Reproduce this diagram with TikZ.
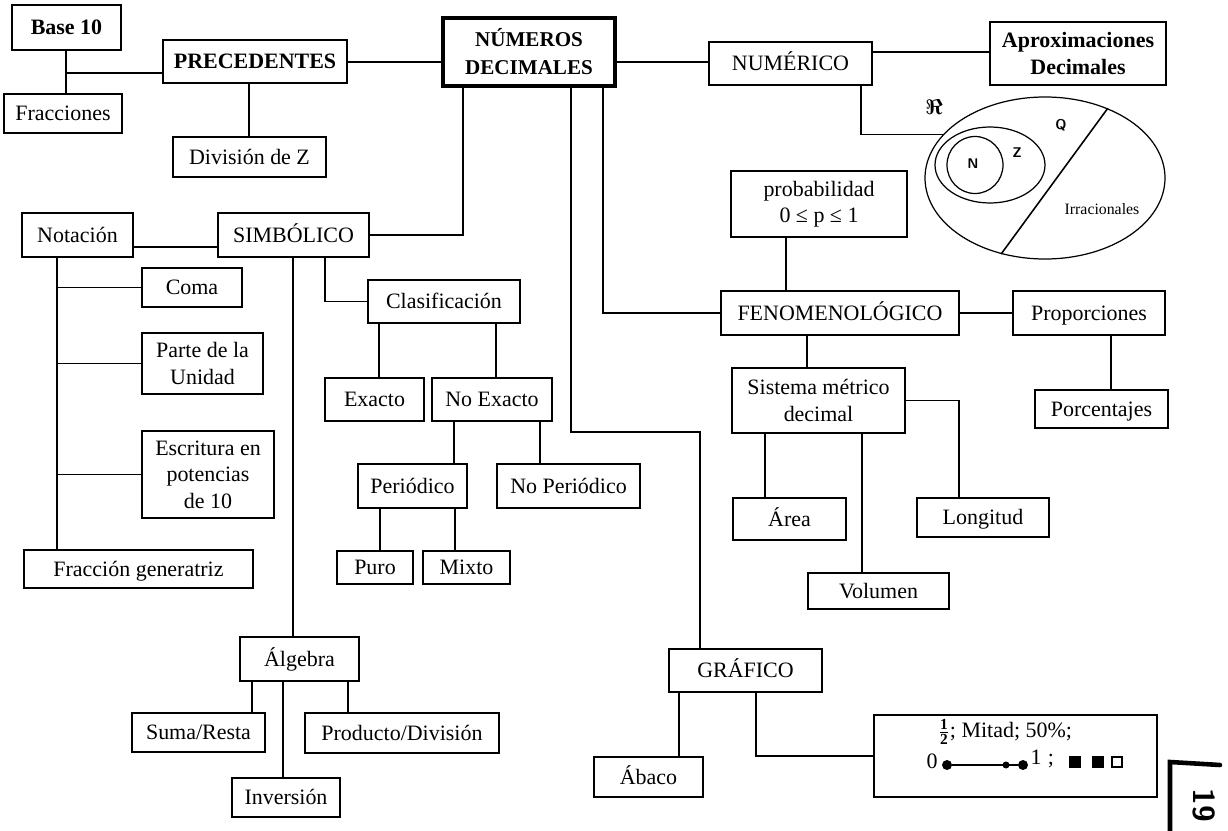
\documentclass[tikz,border=0pt]{standalone}
\usepackage{amsmath}
\usepackage{fontspec}
\setmainfont{Liberation Serif}
\usetikzlibrary{shapes.geometric}

\newcommand\fs{\fontsize{12.5}{15}\selectfont}

\begin{document}
\begin{tikzpicture}[x=0.02cm,y=-0.02cm,
  sz/.style 2 args={minimum width=#1*0.02cm,minimum height=#2*0.02cm},
  box2/.style={draw,line width=0.7pt,inner sep=1pt,align=center,font=\fs},
  box/.style={box2,text height=11.5pt,text depth=3.5pt},
  hbox/.style={box,line width=1.3pt},
  mbox/.style={box2,line width=2.2pt,font=\fontsize{12}{16}\selectfont\bfseries},
  link/.style={line width=0.9pt},
  hlink/.style={line width=1.4pt},
  set/.style={draw,ellipse,line width=0.7pt,inner sep=0pt},
  setlbl/.style={font=\sffamily\bfseries\fontsize{8}{9}\selectfont},
  dot/.style={circle,fill,inner sep=0pt,minimum size=0.2cm},
  sq/.style={draw,line width=0.6pt,inner sep=0pt,minimum size=0.2cm}]
\useasboundingbox (0,0) rectangle (1228,831);

% top row
\node[box,sz={109}{45}] (base) at (66.5,27.5) {\textbf{Base 10}};
\node[box,sz={118}{39}] (frac) at (63,113.5) {Fracciones};
\node[hbox,sz={184}{43}] (prec) at (255,61.5) {\textbf{PRECEDENTES}};
\node[box,sz={153}{40}] (divz) at (249.5,157) {División de Z};
\node[mbox,sz={172}{68}] (main) at (529,52) {NÚMEROS\\DECIMALES};
\node[hbox,sz={163}{43}] (numer) at (790.5,63.5) {NUMÉRICO};
\node[box2,sz={176}{63},line width=1.3pt,font=\fs\bfseries] (aprox) at (1078,53.5) {Aproximaciones\\Decimales};

% sets
\node[set,sz={240}{162}] (R) at (1045,178) {};
\node[set,sz={110}{76}] (Q) at (990,165) {};
\node[set,sz={56}{57}] (N) at (975,165) {};
\node[font=\large] (lR) at (934,107) {$\boldsymbol{\Re}$};
\node[setlbl] (lN) at (973,164) {N};
\node[setlbl] (lZ) at (1017,153) {Z};
\node[setlbl] (lQ) at (1061,125) {Q};
\node[font=\fontsize{9}{10}\selectfont] (irr) at (1102,209) {Irracionales};
\draw[link] (R.48) -- (R.240);

% fenomenologico
\node[box2,sz={176}{66}] (prob) at (819,204) {probabilidad\\0 ≤ p ≤ 1};
\node[hbox,sz={238}{44}] (fenom) at (840,313) {FENOMENOLÓGICO};
\node[box,sz={152}{44}] (prop) at (1089,313) {Proporciones};
\node[box,sz={133}{38}] (porc) at (1101.5,409) {Porcentajes};
\node[box2,sz={173}{65}] (sist) at (818.5,400.5) {Sistema métrico\\decimal};
\node[box,sz={113}{42}] (area) at (789.5,519) {Área};
\node[box,sz={132}{39}] (long) at (983,517.5) {Longitud};
\node[box,sz={141}{36}] (vol) at (878.5,591) {Volumen};

% grafico
\node[hbox,sz={153}{43}] (graf) at (745.5,670.5) {GRÁFICO};
\node[box,sz={109}{40}] (abaco) at (648.5,777) {Ábaco};
\node[box2,sz={283}{82}] (half) at (1015.5,756) {};
\node[font=\fs] (halfa) at (1005,732) {$\frac{\mathbf{1}}{\mathbf{2}}$; Mitad; 50\%;};
\node[font=\fs] (zero) at (932,761) {0};
\node[font=\fs] (one) at (1036,757) {1};
\node[font=\fs] (semi) at (1051,761) {;};
\node[dot] (d0) at (947,765) {};
\node[dot] (d1) at (1023,765) {};
\node[dot,minimum size=0.14cm] (dm) at (1006,765) {};
\draw[link] (d0) -- (d1);
\node[sq,fill] (s1) at (1075,762) {};
\node[sq,fill] (s2) at (1098,762) {};
\node[sq] (s3) at (1117,762) {};

% simbolico
\node[hbox,sz={151}{44}] (simb) at (293.5,235) {SIMBÓLICO};
\node[box,sz={111}{44}] (nota) at (77.5,235) {Notación};
\node[box,sz={100}{39}] (coma) at (192,287.5) {Coma};
\node[box2,sz={121}{61}] (parte) at (202.5,363.5) {Parte de la\\Unidad};
\node[box2,sz={132}{87}] (escr) at (208,474.5) {Escritura en\\potencias\\de 10};
\node[box,sz={229}{38}] (fgen) at (138.5,569) {Fracción generatriz};
\node[box,sz={152}{43}] (clas) at (444,301.5) {Clasificación};
\node[box,sz={99}{43}] (exac) at (374.5,399.5) {Exacto};
\node[box,sz={120}{43}] (noex) at (492,399.5) {No Exacto};
\node[box,sz={109}{44}] (peri) at (412.5,486) {Periódico};
\node[box,sz={143}{44}] (nope) at (568.5,486) {No Periódico};
\node[box,sz={76}{33}] (puro) at (375,567.5) {Puro};
\node[box,sz={87}{33}] (mixt) at (466.5,567.5) {Mixto};
\node[hbox,sz={119}{44}] (alg) at (299.5,659) {Álgebra};
\node[box,sz={133}{39}] (suma) at (198.5,732.5) {Suma/Resta};
\node[box,sz={194}{40}] (prod) at (402,733) {Producto/División};
\node[box,sz={108}{39}] (inv) at (286,797.5) {Inversión};

% connectors
\foreach \a/\b/\x in {base/frac/66,prec/divz/249,prob/fenom/786,prop/porc/1111,
  fenom/sist/807,sist/area/765,sist/vol/862,graf/abaco/679,simb/alg/293,
  clas/exac/379,clas/noex/496,noex/peri/454,noex/nope/540,peri/puro/380,
  peri/mixt/455,alg/suma/252,alg/prod/348,alg/inv/283,nota/fgen/57}
  \draw[link] (\a.south -| \x,0) -- (\b.north -| \x,0);
\coordinate (bj) at (66,73);
\draw[link] (bj) -- (bj -| prec.west);
\draw[hlink] (prec.east |- 0,62) -- (main.west |- 0,62);
\draw[link] (main.east |- 0,62) -- (numer.west |- 0,62);
\draw[link] (numer.east |- 0,52) -- (aprox.west |- 0,52);
\draw[link] ([xshift=1.41cm]numer.south) |- (R.157);
\draw[link] (main.south -| 463,0) |- (simb.east);
\draw[link] (main.south -| 603,0) |- (fenom.west);
\coordinate (gk) at (700,432);
\draw[link] (main.south -| 571,0) |- (gk) -- (gk |- graf.north);
\draw[link] (fenom.east) -- (prop.west);
\draw[link] (sist.east) -| ([xshift=-0.48cm]long.north);
\draw[link] (graf.south -| 756,0) |- (half.west);
\draw[link] (simb.west |- 0,247) -- (nota.east |- 0,247);
\foreach \b in {coma,parte,escr}
  \draw[link] (\b.west) -- (\b.west -| 57,0);
\draw[link] (simb.south -| 325,0) |- (clas.west);

% page mark
\draw[line width=2.6pt,line cap=round] (1170,831) -- (1170,762) -- (1220,765);
\node[rotate=-90,font=\sffamily\bfseries\LARGE] (mark) at (1204,805) {19};
\end{tikzpicture}
\end{document}
